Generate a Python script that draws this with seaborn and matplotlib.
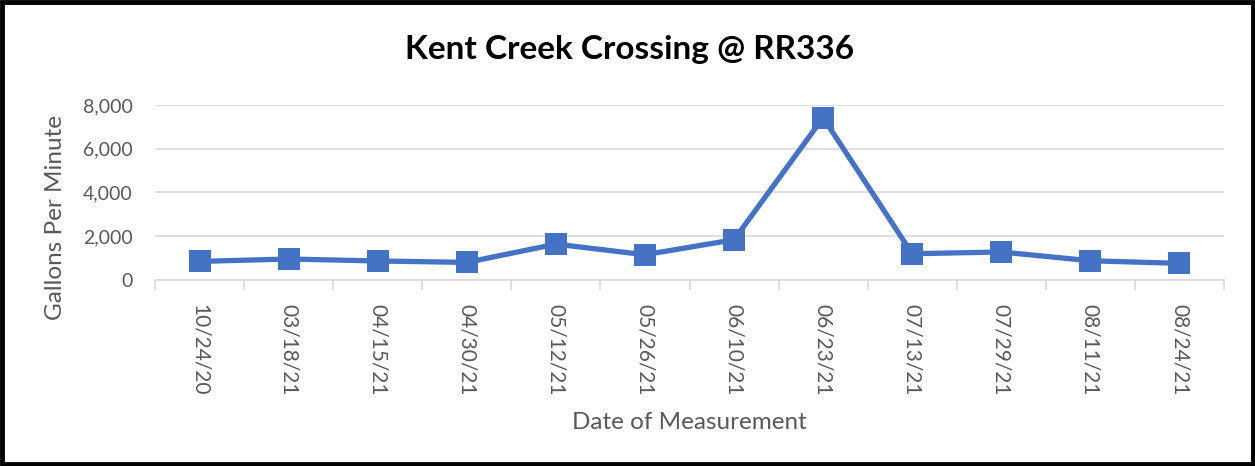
import matplotlib
matplotlib.use("Agg")
import matplotlib.pyplot as plt
import seaborn as sns
import pandas as pd
from matplotlib.patches import Rectangle
from matplotlib.ticker import FuncFormatter, FixedLocator

dates = ["10/24/20", "03/18/21", "04/15/21", "04/30/21", "05/12/21", "05/26/21",
         "06/10/21", "06/23/21", "07/13/21", "07/29/21", "08/11/21", "08/24/21"]
gpm = [850, 960, 870, 805, 1640, 1155, 1840, 7420, 1200, 1280, 880, 760]
yticks = [0, 2000, 4000, 6000, 8000]

sns.set_theme(style="white")
plt.rcParams['font.family'] = ['Lato', 'DejaVu Sans']

df = pd.DataFrame({"idx": range(len(dates)), "gpm": gpm})

fig = plt.figure(figsize=(12.55, 4.66), dpi=100)
ax = fig.add_axes([155/1255, 1-280/466, (1224-155)/1255, (280-105)/466])

sns.lineplot(data=df, x="idx", y="gpm", ax=ax, color="#4472C4", linewidth=3.8,
             marker="s", markersize=16.5, markeredgewidth=0, markerfacecolor="#4472C4")

ax.set_xlim(-0.5, len(dates)-0.5)
ax.set_ylim(0, 8000)
ax.set_yticks(yticks)
ax.yaxis.set_major_formatter(FuncFormatter(lambda v, p: f"{int(v):,}"))
ax.set_xticks(range(len(dates)))
ax.set_xticklabels(dates, rotation=-90, fontsize=15, color="#595959")
ax.xaxis.set_minor_locator(FixedLocator([i-0.5 for i in range(len(dates)+1)]))
ax.tick_params(axis="x", which="major", length=0, pad=17)
ax.tick_params(axis="x", which="minor", length=7, width=1.2, color="#D9D9D9", bottom=True)
ax.tick_params(axis="y", length=0, labelsize=14, labelcolor="#595959", pad=16)

ax.grid(axis="y", color="#D9D9D9", linewidth=1.2)
ax.set_axisbelow(True)
for s in ["top", "right", "left"]:
    ax.spines[s].set_visible(False)
ax.spines["bottom"].set_color("#D9D9D9")
ax.spines["bottom"].set_linewidth(1.2)

ax.set_xlabel("Date of Measurement", fontsize=17.5, color="#595959", labelpad=12)
ax.set_ylabel("Gallons Per Minute", fontsize=17.5, color="#595959", va="center")
ax.yaxis.set_label_coords(-0.0935, 0.36)

fig.text(630/1255, 1-50/466, "Kent Creek Crossing @ RR336", ha="center", va="center",
         fontsize=24, fontweight="bold", color="black")

fig.patches.append(Rectangle((0.0015, 0.004), 0.997, 0.992, transform=fig.transFigure,
                             fill=False, edgecolor="black", linewidth=3.5))

fig.savefig("out.png", dpi=100)
